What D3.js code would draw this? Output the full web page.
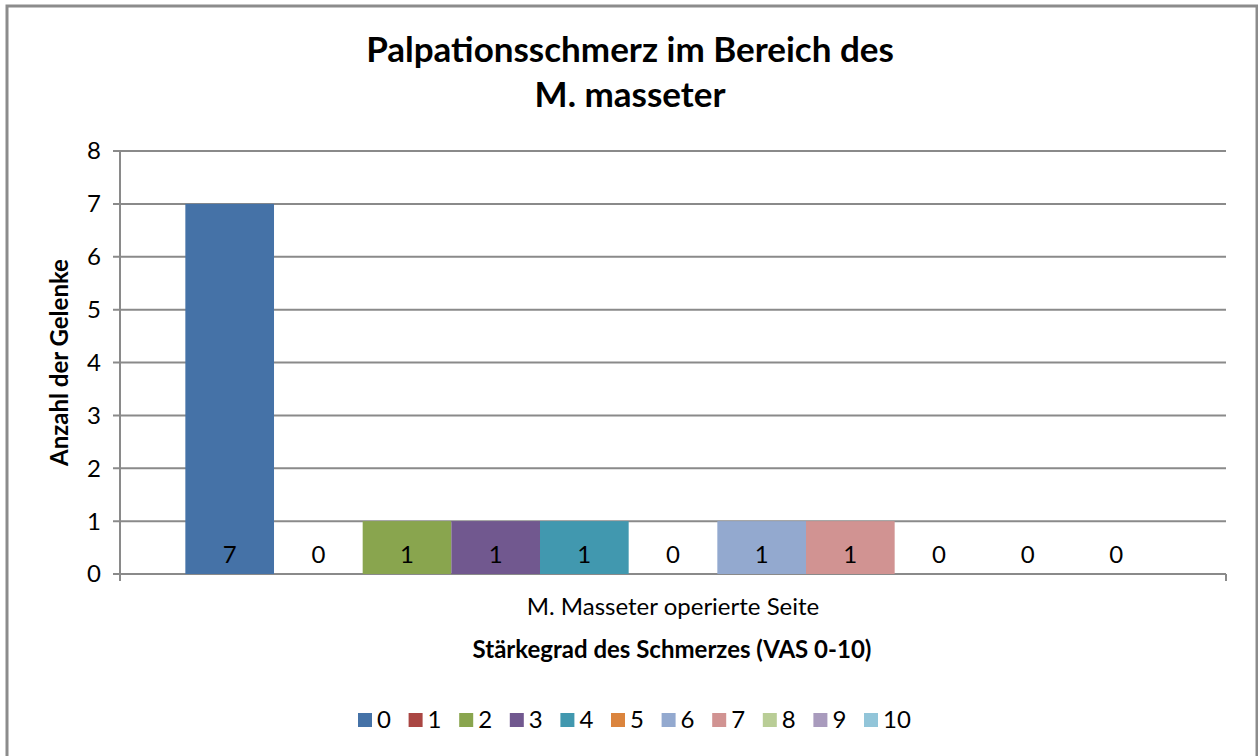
<!DOCTYPE html>
<html>
<head>
<meta charset="utf-8">
<script src="https://cdn.jsdelivr.net/npm/d3@7"></script>
<style>
  body { margin: 0; background: #fff; }
  text { font-family: Lato, "Open Sans", sans-serif; fill: #000; }
</style>
</head>
<body>
<svg id="chart" width="1258" height="756"></svg>
<script>
// data
const category = "M. Masseter operierte Seite";
const seriesNames = ["0", "1", "2", "3", "4", "5", "6", "7", "8", "9", "10"];
const seriesValues = [7, 0, 1, 1, 1, 0, 1, 1, 0, 0, 0];
const seriesColors = ["#4572a7", "#aa4643", "#89a54e", "#71588f", "#4198af", "#db843d",
                      "#93a9cf", "#d19392", "#b9cd96", "#a99bbd", "#92c5d9"];
const yTicks = [0, 1, 2, 3, 4, 5, 6, 7, 8];

const svg = d3.select("#chart");

// outer chart frame
svg.append("rect")
    .attr("x", 7).attr("y", 6)
    .attr("width", 1250).attr("height", 800)
    .style("fill", "none")
    .style("stroke", "#8c8c8c")
    .style("stroke-width", 3);

const plot = {left: 120, right: 1226, top: 151, bottom: 574};

let y = d3.scaleLinear().domain([0, 8]).range([plot.bottom, plot.top]);
let x0 = d3.scaleBand().domain([category]).range([plot.left, plot.right]).paddingOuter(0.067).paddingInner(0);
let x1 = d3.scaleBand().domain(seriesNames).range([x0(category), x0(category) + x0.bandwidth()]).padding(0);

// gridlines
svg.append("g")
    .selectAll("line")
    .data(yTicks)
    .join("line")
    .attr("x1", plot.left - 7)
    .attr("x2", plot.right)
    .attr("y1", d => y(d))
    .attr("y2", d => y(d))
    .style("stroke", "#8a8a8a")
    .style("stroke-width", 2);

// y axis line
svg.append("line")
    .attr("x1", plot.left).attr("x2", plot.left)
    .attr("y1", plot.top).attr("y2", plot.bottom + 7)
    .style("stroke", "#8a8a8a")
    .style("stroke-width", 2);
// right end tick on x axis
svg.append("line")
    .attr("x1", plot.right).attr("x2", plot.right)
    .attr("y1", plot.bottom).attr("y2", plot.bottom + 7)
    .style("stroke", "#8a8a8a")
    .style("stroke-width", 2);

// y tick labels
svg.append("g")
    .selectAll("text")
    .data(yTicks)
    .join("text")
    .attr("x", plot.left - 19)
    .attr("y", d => y(d))
    .attr("dy", "0.35em")
    .attr("text-anchor", "end")
    .style("font-size", "24px")
    .text(d => d);

// bars
svg.append("g")
    .selectAll("rect")
    .data(seriesValues)
    .join("rect")
    .attr("x", (d, i) => x1(seriesNames[i]))
    .attr("y", d => y(d))
    .attr("width", x1.bandwidth())
    .attr("height", d => y(0) - y(d))
    .style("fill", (d, i) => seriesColors[i]);

// data labels at inside base
svg.append("g")
    .selectAll("text")
    .data(seriesValues)
    .join("text")
    .attr("x", (d, i) => x1(seriesNames[i]) + x1.bandwidth() / 2)
    .attr("y", y(0) - 19)
    .attr("dy", "0.35em")
    .attr("text-anchor", "middle")
    .style("font-size", "24px")
    .text(d => d);

// category label
svg.append("text")
    .attr("x", x0(category) + x0.bandwidth() / 2)
    .attr("y", 615)
    .attr("text-anchor", "middle")
    .style("font-size", "24px")
    .text(category);

// x axis title
svg.append("text")
    .attr("x", 672)
    .attr("y", 658)
    .attr("text-anchor", "middle")
    .style("font-size", "24px")
    .style("font-weight", "bold")
    .text("Stärkegrad des Schmerzes (VAS 0-10)");

// y axis title
svg.append("text")
    .attr("transform", "translate(68," + ((plot.top + plot.bottom) / 2) + ") rotate(-90)")
    .attr("text-anchor", "middle")
    .style("font-size", "24px")
    .style("font-weight", "bold")
    .text("Anzahl der Gelenke");

// title
let title = svg.append("text")
    .attr("x", 630)
    .attr("text-anchor", "middle")
    .style("font-size", "35px")
    .style("font-weight", "bold");
title.append("tspan").attr("x", 630).attr("y", 62).text("Palpationsschmerz im Bereich des");
title.append("tspan").attr("x", 630).attr("y", 107).text("M. masseter");

// legend
let legend = svg.append("g")
    .selectAll("g")
    .data(seriesNames)
    .join("g")
    .attr("transform", (d, i) => "translate(" + (358 + i * 50.6) + ",720)");
legend.append("rect")
    .attr("x", 0).attr("y", -7)
    .attr("width", 14).attr("height", 14)
    .style("fill", (d, i) => seriesColors[i]);
legend.append("text")
    .attr("x", 19)
    .attr("dy", "0.35em")
    .style("font-size", "24px")
    .text(d => d);
</script>
</body>
</html>
